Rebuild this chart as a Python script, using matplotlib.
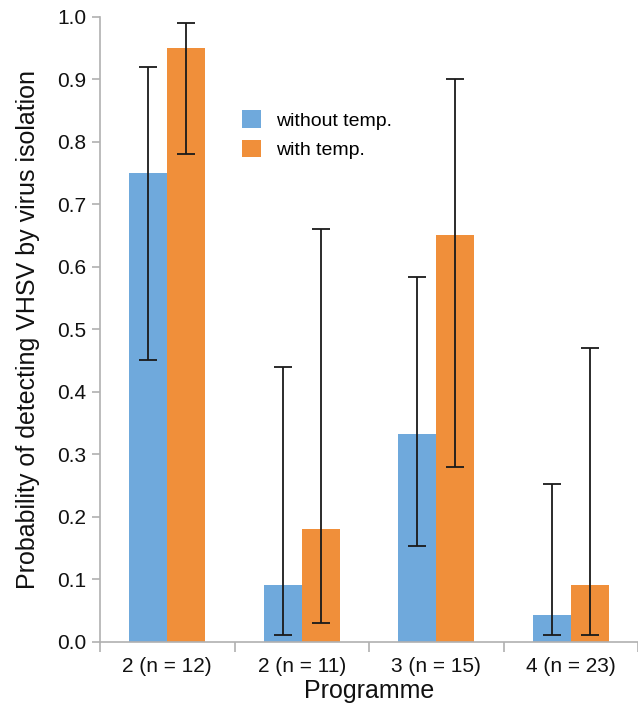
import matplotlib
matplotlib.use("Agg")
import matplotlib.pyplot as plt
import numpy as np

categories = ["2 (n = 12)", "2 (n = 11)", "3 (n = 15)", "4 (n = 23)"]
without_temp = [0.75, 0.09, 0.333, 0.042]
without_lo = [0.45, 0.01, 0.153, 0.01]
without_hi = [0.92, 0.44, 0.583, 0.253]
with_temp = [0.95, 0.18, 0.65, 0.09]
with_lo = [0.78, 0.03, 0.28, 0.01]
with_hi = [0.99, 0.66, 0.90, 0.47]
yticks = [0.0, 0.1, 0.2, 0.3, 0.4, 0.5, 0.6, 0.7, 0.8, 0.9, 1.0]

plt.rcParams['font.family'] = ['Liberation Sans', 'DejaVu Sans']

W, H = 638, 704
fig = plt.figure(figsize=(W / 100, H / 100), dpi=100)
left, right = 100 / W, 638 / W
bottom, top = (H - 641.7) / H, (H - 16.7) / H
ax = fig.add_axes([left, bottom, right - left, top - bottom])

x = np.arange(len(categories))
bw = 0.283
blue = "#6FA9DC"
orange = "#F08F3A"
ax.bar(x - bw / 2, without_temp, bw, color=blue, label="without temp.", zorder=2)
ax.bar(x + bw / 2, with_temp, bw, color=orange, label="with temp.", zorder=2)

def err(xs, v, lo, hi):
    v = np.array(v); lo = np.array(lo); hi = np.array(hi)
    ax.errorbar(xs, v, yerr=[v - lo, hi - v], fmt="none", ecolor="#1a1a1a",
                elinewidth=1.3, capsize=6.5, capthick=1.3, zorder=3)

err(x - bw / 2, without_temp, without_lo, without_hi)
err(x + bw / 2, with_temp, with_lo, with_hi)

ax.set_xlim(-0.5, len(categories) - 0.5)
ax.set_ylim(0, 1.0)
ax.set_yticks(yticks)
ax.set_yticklabels([f"{t:.1f}" for t in yticks])
ax.set_xticks(x)
ax.set_xticklabels(categories)
ax.set_xticks(np.arange(len(categories) + 1) - 0.5, minor=True)

for s in ["top", "right"]:
    ax.spines[s].set_visible(False)
for s in ["left", "bottom"]:
    ax.spines[s].set_color("#b0b0b0")
    ax.spines[s].set_linewidth(1.2)

ax.tick_params(axis="y", which="major", length=6, width=1.2, color="#b0b0b0",
               labelsize=15, pad=4, labelcolor="#111111")
ax.tick_params(axis="x", which="major", length=0, labelsize=15, pad=11,
               labelcolor="#111111")
ax.tick_params(axis="x", which="minor", length=7, width=1.2, color="#b0b0b0")

ax.set_xlabel("Programme", fontsize=18, labelpad=2, color="#111111")
ax.set_ylabel("Probability of detecting VHSV by virus isolation", fontsize=18,
              labelpad=12, color="#111111")

leg = ax.legend(loc="upper left", bbox_to_anchor=(0.231, 0.878), frameon=False,
                fontsize=14, handlelength=1.0, handleheight=1.0,
                handletextpad=0.75, labelspacing=0.5)

fig.savefig("out.png", dpi=100)
